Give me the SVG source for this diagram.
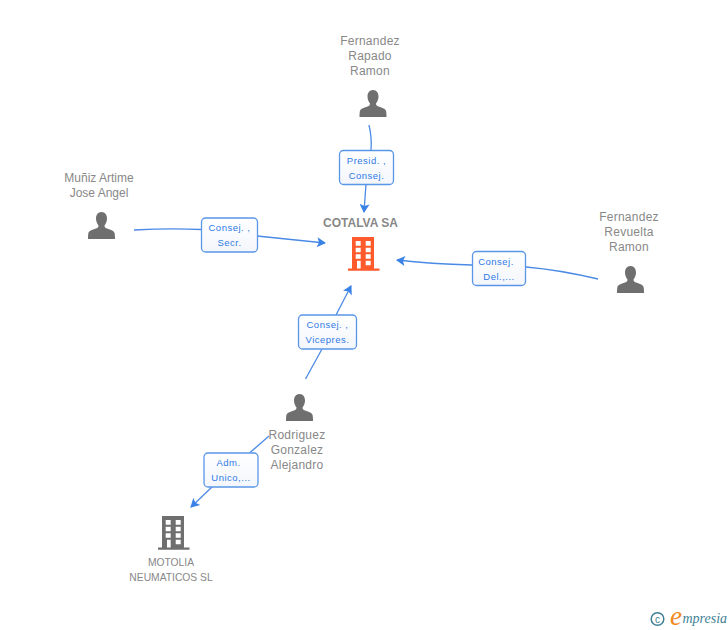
<svg xmlns="http://www.w3.org/2000/svg" width="728" height="630" viewBox="0 0 728 630">
<style>
.n{font-family:"Liberation Sans",Arial,sans-serif;font-size:12px;fill:#888;text-anchor:middle;letter-spacing:.25px}
.b{font-family:"Liberation Sans",Arial,sans-serif;font-size:9.5px;fill:#2f7ae5;text-anchor:middle;letter-spacing:.5px}
.box{fill:url(#g);stroke:#5a96e8;stroke-width:1.3}
.c{fill:none;stroke:#4a8ae6;stroke-width:1.3}
.p{fill:#6f6f6f}
</style>
<defs>
<linearGradient id="g" x1="0" y1="0" x2="0" y2="1"><stop offset="0" stop-color="#fff"/><stop offset="1" stop-color="#f3f6fb"/></linearGradient>
<marker id="a" viewBox="0 0 10 10" refX="9" refY="5" markerWidth="10" markerHeight="10" markerUnits="userSpaceOnUse" orient="auto"><path d="M1 0L10 5L1 10L3 5Z" fill="#3b82e6"/></marker>
<symbol id="person" width="27" height="27" viewBox="0 0 27 27" overflow="visible"><path class="p" d="M13.500 0C9.700 0 8 3 8 6.500C8 9.500 9.300 12 10.500 13.500C10.500 15 10 15.700 8 16.500C4 18 .8 18.500 .3 21.500C0 23.500 0 25 0 27H27C27 25 27 23.500 26.700 21.500C26.200 18.500 23 18 19 16.500C17 15.700 16.500 15 16.500 13.500C17.700 12 19 9.500 19 6.500C19 3 17.300 0 13.500 0Z"/></symbol>
<symbol id="bld" width="32" height="34" viewBox="0 0 32 34" overflow="visible">
<path fill="currentColor" fill-rule="evenodd" d="M4 0H26V31.500H31.500V33.800H0V31.500H4ZM7.700 4V8.700H12.700V4ZM17.700 4V8.700H22.700V4ZM7.700 10.700V15.300H12.700V10.700ZM17.700 10.700V15.300H22.700V10.700ZM7.700 17.300V21.700H12.700V17.300ZM17.700 17.300V21.700H22.700V17.300ZM9 23.700V31.500H12.700V23.700ZM17.700 23.700V28.300H22.700V23.700Z"/></symbol>
</defs>
<rect width="728" height="630" fill="#fff"/>
<g id="connectors">
<path class="c" d="M369 125Q372 138 371 150"/>
<path class="c" d="M366 184L364 212" marker-end="url(#a)"/>
<path class="c" d="M134 230Q170 228 201 229.500"/>
<path class="c" d="M257 236L325 243" marker-end="url(#a)"/>
<path class="c" d="M598 279Q560 270 526 267"/>
<path class="c" d="M472 265Q430 264 397 260" marker-end="url(#a)"/>
<path class="c" d="M305.500 379L322 349"/>
<path class="c" d="M336 315L351 286" marker-end="url(#a)"/>
<path class="c" d="M269 436L250 452.500"/>
<path class="c" d="M212 487L191 507" marker-end="url(#a)"/>
</g>
<g id="cotalva"><text x="360.500" y="227" class="n" style="font-weight:bold;letter-spacing:0">COTALVA SA</text><use href="#bld" x="348" y="237" color="#ff5a2b"/></g>
<g id="motolia"><use href="#bld" x="158" y="516" color="#6f6f6f"/><text class="n" style="font-size:10.300px;letter-spacing:0"><tspan x="171" y="566">MOTOLIA</tspan><tspan x="171" y="581">NEUMATICOS SL</tspan></text></g>
<g id="fernandez-rapado"><text class="n"><tspan x="370" y="45">Fernandez</tspan><tspan x="370" y="60">Rapado</tspan><tspan x="370" y="75">Ramon</tspan></text><use href="#person" x="359.500" y="90"/></g>
<g id="muniz"><text class="n" style="letter-spacing:0"><tspan x="99" y="182">Muñiz Artime</tspan><tspan x="99" y="197">Jose Angel</tspan></text><use href="#person" x="88" y="212"/></g>
<g id="fernandez-revuelta"><text class="n"><tspan x="629" y="221">Fernandez</tspan><tspan x="629" y="236">Revuelta</tspan><tspan x="629" y="251">Ramon</tspan></text><use href="#person" x="617" y="266"/></g>
<g id="rodriguez"><use href="#person" x="286" y="394"/><text class="n"><tspan x="297" y="439">Rodriguez</tspan><tspan x="297" y="454">Gonzalez</tspan><tspan x="297" y="469">Alejandro</tspan></text></g>
<g id="l1"><rect class="box" x="339.500" y="150.500" width="54" height="34" rx="4"/><text class="b"><tspan x="366.500" y="164">Presid. ,</tspan><tspan x="366.500" y="179">Consej.</tspan></text></g>
<g id="l2"><rect class="box" x="201.500" y="218" width="56" height="34" rx="4"/><text class="b"><tspan x="229.500" y="231">Consej. ,</tspan><tspan x="229.500" y="246">Secr.</tspan></text></g>
<g id="l3"><rect class="box" x="472.500" y="251.500" width="53" height="34" rx="4"/><text class="b"><tspan x="496" y="265">Consej.</tspan><tspan x="499" y="280">Del.,...</tspan></text></g>
<g id="l4"><rect class="box" x="298.500" y="315" width="58" height="34" rx="4"/><text class="b"><tspan x="327.500" y="328">Consej. ,</tspan><tspan x="327.500" y="343">Vicepres.</tspan></text></g>
<g id="l5"><rect class="box" x="204" y="453" width="54" height="34" rx="4"/><text class="b"><tspan x="228.500" y="466">Adm.</tspan><tspan x="231" y="481">Unico,...</tspan></text></g>
<g id="logo"><circle cx="657.500" cy="619" r="6.300" fill="none" stroke="#3f7f94" stroke-width="1.500"/><text x="657.500" y="622.500" font-family="Liberation Sans,sans-serif" font-size="10" fill="#3f7f94" text-anchor="middle">c</text>
<text x="670" y="625" font-family="Liberation Serif,serif" font-style="italic" font-size="27" fill="#f08a1d">e</text><text x="682.500" y="623" font-family="Liberation Serif,serif" font-style="italic" font-size="14" fill="#3f8296">mpresia</text></g>
</svg>
